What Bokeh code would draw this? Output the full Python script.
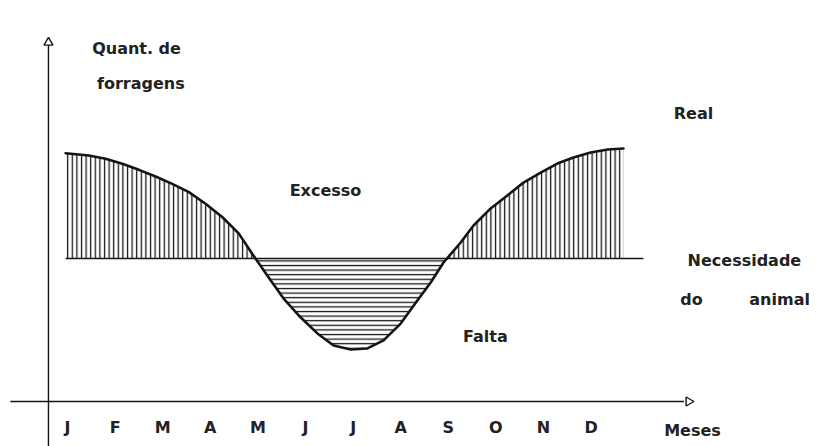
import numpy as np
from bokeh.plotting import figure
from bokeh.models import Range1d
from bokeh.embed import file_html
from bokeh.resources import INLINE
from bokeh.core.properties import value

# ---- data ----
months = ["J", "F", "M", "A", "M", "J", "J", "A", "S", "O", "N", "D"]
month_pos = list(range(12))
# forage quantity "Real" (arbitrary units, x axis = 0, need = 10), x in months (J = 0)
real_x = [-0.04, 0.45, 0.80, 1.15, 1.50, 1.85, 2.20, 2.55, 2.90, 3.25, 3.60,
          3.88, 4.27, 4.54, 4.90, 5.25, 5.59, 5.95, 6.30, 6.64, 7.00, 7.35,
          7.63, 7.90, 8.26, 8.53, 8.89, 9.24, 9.58, 9.94, 10.29, 10.63, 10.99,
          11.35, 11.68]
real_y = [17.36, 17.20, 16.97, 16.62, 16.20, 15.73, 15.22, 14.64, 13.83, 12.90,
          11.74, 10.33, 8.46, 7.20, 5.87, 4.76, 3.92, 3.64, 3.71, 4.27, 5.45,
          7.06, 8.32, 9.72, 11.12, 12.31, 13.50, 14.41, 15.31, 16.01, 16.64,
          17.06, 17.41, 17.62, 17.69]
need_level = 10.0
need_x = [-0.04, 12.1]

FONT = value("DejaVu Sans")
INK = "#141414"

p = figure(width=828, height=446, output_backend="svg", toolbar_location=None,
           x_range=Range1d(-1.4076, 15.987), y_range=Range1d(-3.147, 28.042),
           x_axis_location=None, y_axis_location=None, min_border=0,
           outline_line_color=None, background_fill_color="white")
p.xgrid.visible = False
p.ygrid.visible = False

# insert crossing points with the need line
rx = np.array(real_x, dtype=float)
ry = np.array(real_y, dtype=float)
xs, ys = [rx[0]], [ry[0]]
for i in range(1, len(rx)):
    a, b = ry[i - 1] - need_level, ry[i] - need_level
    if a * b < 0:
        t = a / (a - b)
        xs.append(rx[i - 1] + t * (rx[i] - rx[i - 1]))
        ys.append(need_level)
    xs.append(rx[i])
    ys.append(ry[i])
xs = np.array(xs)
ys = np.array(ys)

# excess (vertical hatching) and deficit (horizontal hatching)
p.varea(x=xs, y1=np.full_like(xs, need_level), y2=np.maximum(ys, need_level),
        fill_color=None, fill_alpha=0, hatch_pattern="vertical_line",
        hatch_color=INK, hatch_scale=4.6, hatch_weight=1.3)
p.varea(x=xs, y1=np.minimum(ys, need_level), y2=np.full_like(xs, need_level),
        fill_color=None, fill_alpha=0, hatch_pattern="horizontal_line",
        hatch_color=INK, hatch_scale=4.6, hatch_weight=1.3)

# need line and real curve
p.line(x=need_x, y=[need_level, need_level], line_color=INK, line_width=1.6)
p.line(x=list(xs), y=list(ys), line_color=INK, line_width=2.6,
       line_join="round", line_cap="round")

# axes drawn by hand
yax_x = -0.40
p.line(x=[yax_x, yax_x], y=[-3.3, 25.0], line_color=INK, line_width=1.4)
p.line(x=[-1.2, 12.95], y=[0, 0], line_color=INK, line_width=1.4)
p.scatter(x=[yax_x], y=[25.1], marker="triangle", size=9, fill_color="white",
          line_color=INK, line_width=1.4)
p.scatter(x=[13.05], y=[0], marker="triangle", size=9, fill_color="white",
          line_color=INK, line_width=1.4, angle=-np.pi / 2)

# month labels
p.text(x=month_pos, y=[-1.82] * 12, text=months, text_font=FONT,
       text_font_size="16px", text_font_style="bold", text_align="center",
       text_baseline="middle", text_color="#222222")

def lab(x, y, t, size="16px", align="center"):
    p.text(x=[x], y=[y], text=[t], text_font=FONT, text_font_size=size,
           text_font_style="bold", text_align=align, text_baseline="middle",
           text_color="#222222")

lab(13.13, -2.0, "Meses")
lab(1.45, 24.69, "Quant. de")
lab(1.54, 22.24, "forragens")
lab(5.42, 14.76, "Excesso")
lab(13.15, 20.14, "Real")
lab(14.22, 9.86, "Necessidade")
lab(13.11, 7.13, "do")
lab(14.96, 7.13, "animal")
lab(8.78, 4.55, "Falta")

open("out.html", "w").write(file_html(p, INLINE))
